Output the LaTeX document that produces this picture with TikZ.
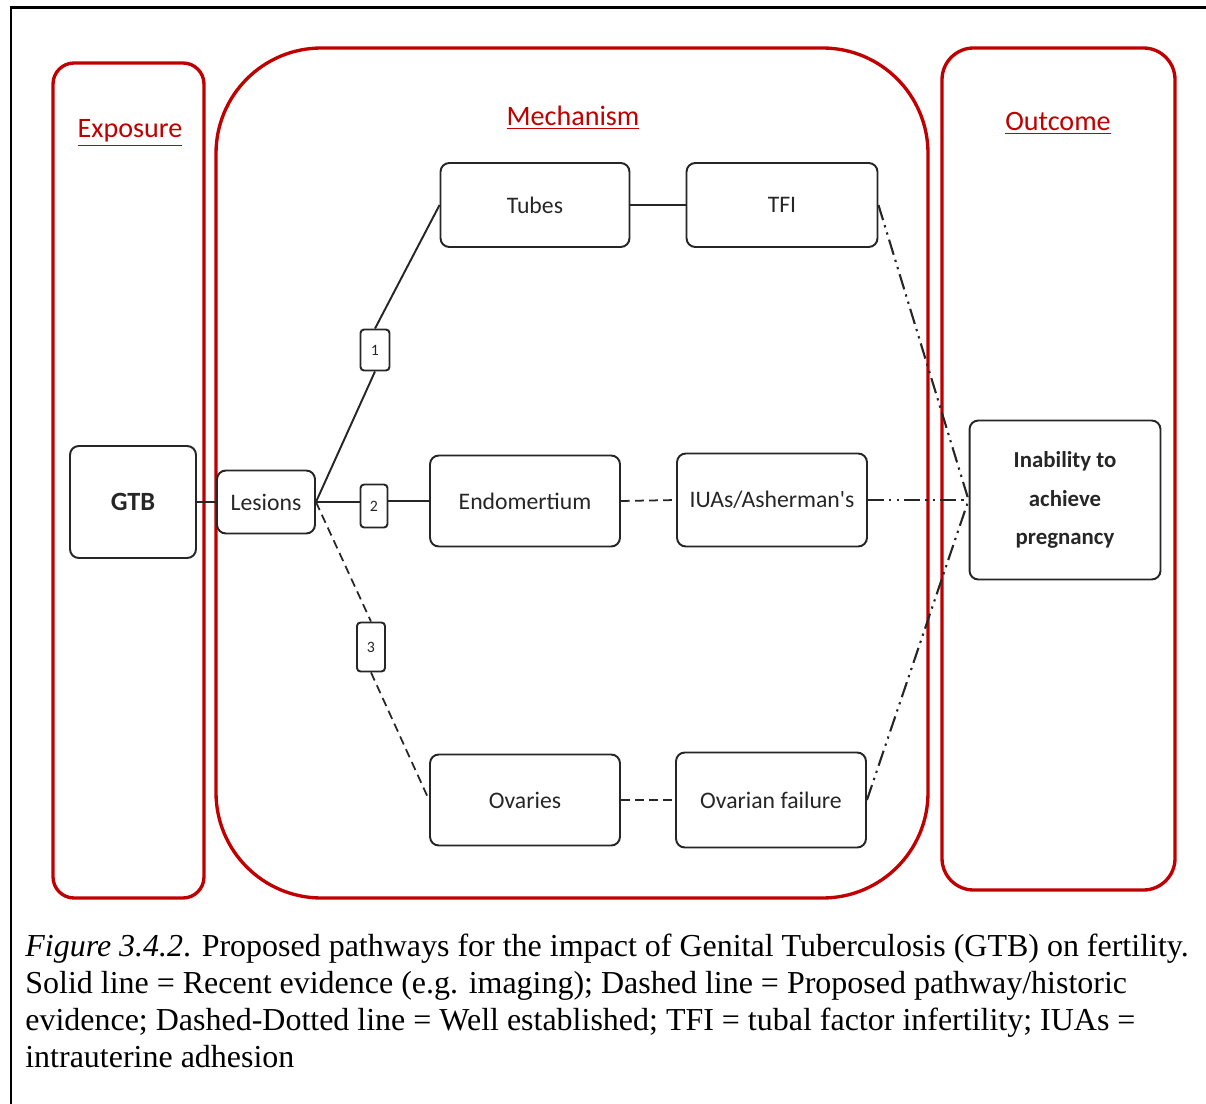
\documentclass[tikz,border=0pt]{standalone}
\usepackage{fontspec}
\setmainfont{Liberation Serif}
\newfontfamily\diagfont{Carlito}
\usetikzlibrary{positioning,calc}
\definecolor{panelred}{HTML}{C00000}
\definecolor{boxink}{HTML}{262626}
\tikzset{panel/.style={draw=panelred,line width=1.9pt},
  head/.style={text=panelred,font=\diagfont\fontsize{16}{18}\selectfont},
  box/.style={draw=boxink,line width=1.1pt,rounded corners=5pt,align=center,font=\diagfont\fontsize{13.5}{16}\selectfont,text=boxink,inner sep=2pt},
  bigbox/.style={box,font=\diagfont\bfseries\fontsize{13}{22}\selectfont},
  numbox/.style={box,rounded corners=2pt,font=\diagfont\fontsize{9}{10}\selectfont},
  solidlink/.style={draw=boxink,line width=1.1pt},
  dashlink/.style={solidlink,line width=1pt,dash pattern=on 5pt off 3pt},
  dotlink/.style={solidlink,line width=1.2pt,dash pattern=on 9pt off 3pt on 1.3pt off 3pt on 1.3pt off 3pt}}
\begin{document}
\begin{tikzpicture}[x=0.02cm,y=-0.02cm]
\useasboundingbox (0,0) rectangle (1206,1104);
\draw[line width=1.7pt] (1206,8) -- (11,8) -- (11,1104);
% panels
\draw[panel,rounded corners=12pt] (53,63) rectangle (204,898);
\draw[panel,rounded corners=60pt] (216,48) rectangle (928,898);
\draw[panel,rounded corners=18pt] (942,48) rectangle (1175,890);
\node[head] (exposure) at (130,133) {\underline{Exposure}};
\node[head] (mechanism) at (573,118) {\underline{Mechanism}};
\node[head] (outcome) at (1058,123) {\underline{Outcome}};
% nodes
\node[box,minimum width=2.52cm,minimum height=2.24cm,font=\diagfont\bfseries\fontsize{15}{18}\selectfont] (gtb) at (133,502) {GTB};
\node[box,minimum width=1.96cm,minimum height=1.26cm] (lesions) at (266,502) {Lesions};
\node[box,minimum width=3.78cm,minimum height=1.68cm] (tubes) at (535,205) {Tubes};
\node[box,minimum width=3.82cm,minimum height=1.68cm] (tfi) at (782,205) {TFI};
\node[box,minimum width=3.8cm,minimum height=1.82cm] (endo) at (525,501) {Endomertium};
\node[box,minimum width=3.8cm,minimum height=1.86cm] (iuas) at (772,500) {IUAs/Asherman's};
\node[box,minimum width=3.8cm,minimum height=1.82cm] (ovaries) at (525,800) {Ovaries};
\node[box,minimum width=3.8cm,minimum height=1.9cm] (ovfail) at (771,800) {Ovarian failure};
\node[bigbox,minimum width=3.82cm,minimum height=3.18cm] (inability) at (1065,500) {Inability to\\achieve\\pregnancy};
\node[numbox,minimum width=0.58cm,minimum height=0.82cm] (n1) at (375,350) {1};
\node[numbox,minimum width=0.54cm,minimum height=0.86cm] (n2) at (374,506) {2};
\node[numbox,minimum width=0.56cm,minimum height=0.98cm] (n3) at (371,647) {3};
% links
\draw[solidlink] (gtb.east) -- (lesions.west);
\draw[solidlink] (lesions.east) -- (n1.south);\draw[solidlink] (n1.north) -- (tubes.west);
\draw[solidlink] (lesions.east) -- (lesions.east -| n2.west);\draw[solidlink] (endo.west -| n2.east) -- (endo.west);
\draw[dashlink] (lesions.east) -- (n3.north);\draw[dashlink] (n3.south) -- (ovaries.west);
\draw[solidlink] (tubes.east) -- (tfi.west);
\draw[dashlink] (endo.east) -- (iuas.west);
\draw[dashlink] (ovaries.east) -- (ovfail.west);
\draw[dotlink] (tfi.east) -- (inability.west);
\draw[dotlink] (iuas.east) -- (inability.west);
\draw[dotlink] (ovfail.east) -- (inability.west);
% caption
\node[anchor=north west,align=left,inner sep=0pt,font=\fontsize{18.2}{20.9}\selectfont] (caption) at (25,934) {\textit{Figure 3.4.2}. Proposed pathways for the impact of Genital Tuberculosis (GTB) on fertility.\\Solid line = Recent evidence (e.g. imaging); Dashed line = Proposed pathway/historic\\evidence; Dashed-Dotted line = Well established; TFI = tubal factor infertility; IUAs =\\intrauterine adhesion};
\end{tikzpicture}
\end{document}
